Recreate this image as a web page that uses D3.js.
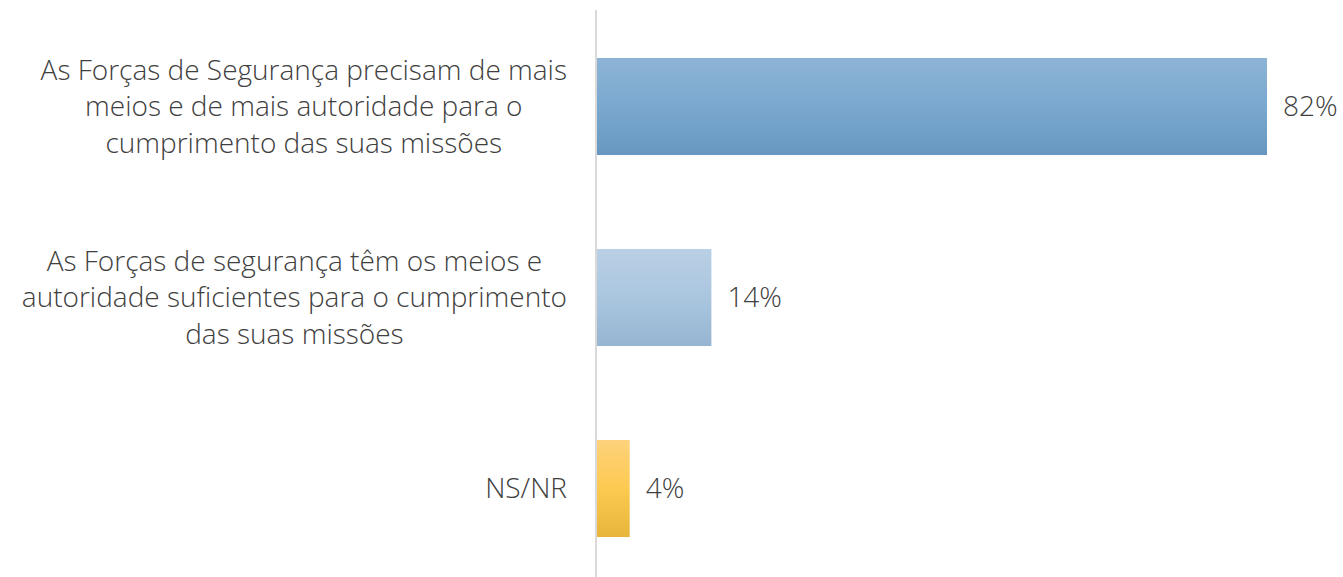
<!DOCTYPE html>
<html><head><meta charset="utf-8">
<script src="https://cdn.jsdelivr.net/npm/d3@7"></script>
<style>html,body{margin:0;padding:0;background:#fff;}svg{display:block;}</style>
</head><body>
<svg id="c" width="1343" height="577"></svg>
<script>
const categories = ["q1","q2","q3"];
const labels = [
  ["As Forças de Segurança precisam de mais","meios e de mais autoridade para o","cumprimento das suas missões"],
  ["As Forças de segurança têm os meios e","autoridade suficientes para o cumprimento","das suas missões"],
  ["NS/NR"]
];
const values = [82, 14, 4];
const valueLabels = ["82%","14%","4%"];
const gradStops = [
  ["#8db4d5","#7aa8cf","#6797c0"],
  ["#b9d0e5","#aac6df","#97b5d1"],
  ["#fdd27b","#fcca51","#e8b53c"]
];

const svg = d3.select("#c");
const defs = svg.append("defs");
gradStops.forEach((s,i)=>{
  const g = defs.append("linearGradient").attr("id","g"+i).attr("x1",0).attr("y1",0).attr("x2",0).attr("y2",1);
  g.append("stop").attr("offset","0%").attr("stop-color",s[0]);
  g.append("stop").attr("offset","50%").attr("stop-color",s[1]);
  g.append("stop").attr("offset","100%").attr("stop-color",s[2]);
});

const x = d3.scaleLinear().domain([0,82]).range([597,1267]);
const y = d3.scaleBand().domain(categories).range([11,584]).paddingInner(0.492).paddingOuter(0.246);

svg.selectAll("rect.bar").data(categories).join("rect")
  .attr("class","bar")
  .attr("x", x(0))
  .attr("y", d=>y(d))
  .attr("width", (d,i)=>x(values[i])-x(0))
  .attr("height", y.bandwidth())
  .attr("fill",(d,i)=>`url(#g${i})`);

svg.append("line").attr("x1",596).attr("x2",596).attr("y1",10).attr("y2",577)
  .attr("stroke","#d9d9d9").attr("stroke-width",2);

const fontFam = "'Open Sans', sans-serif";
const fs = 28;
const lh = 36.5;
const rightEdge = 567;
categories.forEach((c,i)=>{
  const cy = y(c) + y.bandwidth()/2;
  const lines = labels[i];
  const t = svg.append("text").attr("text-anchor","middle")
    .attr("font-family",fontFam).attr("font-weight",300).attr("font-size",fs)
    .attr("fill","#404040");
  const spans = lines.map((l,j)=>t.append("tspan")
      .attr("y", cy + (j-(lines.length-1)/2)*lh)
      .attr("dy","0.35em").text(l));
  const maxW = d3.max(spans, s=>s.node().getComputedTextLength());
  spans.forEach(s=>s.attr("x", rightEdge - maxW/2));
  svg.append("text").attr("x", x(values[i])+16).attr("y",cy).attr("dy","0.35em")
    .attr("font-family",fontFam).attr("font-weight",300).attr("font-size",fs)
    .attr("fill","#404040").text(valueLabels[i]);
});
</script>
</body></html>
